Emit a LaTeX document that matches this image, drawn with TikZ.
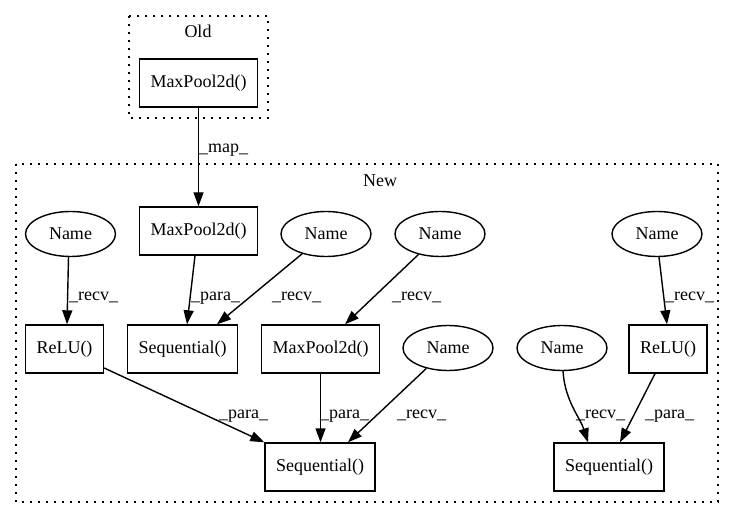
\documentclass[tikz,border=0pt]{standalone}
\usepackage{fontspec}
\setmainfont{Liberation Serif}
\usetikzlibrary{arrows.meta,shapes.geometric}
\begin{document}
\begin{tikzpicture}[x=1pt,y=-1pt,
  every node/.style={font=\fontsize{18}{20}\selectfont},
  op/.style={draw, line width=1.4pt, rectangle, minimum height=48pt,
             inner xsep=11pt, inner ysep=0pt},
  var/.style={draw, line width=1.4pt, ellipse, minimum width=90pt,
              minimum height=45pt, inner sep=0pt},
  cluster/.style={draw, line width=1.4pt, dash pattern=on 1.6pt off 6.4pt},
  flow/.style={line width=1.4pt, -{Triangle[length=14pt,width=10pt]}},
  lbl/.style={anchor=base west, inner sep=0pt},
  ctitle/.style={anchor=base, inner sep=0pt},
]
\useasboundingbox (0,0) rectangle (733,518);

% clusters
\draw[cluster] (129,16) rectangle (268,118);
\node[ctitle] (oldtitle) at (198,38) {Old};
\draw[cluster] (16,164) rectangle (718,502);
\node[ctitle] (newtitle) at (380,187) {New};

% nodes
\node[op] (oldmp) at (198.5,83) {MaxPool2d()};
\node[op] (mp1) at (198.5,231) {MaxPool2d()};
\node[var] (name1) at (70.5,234) {Name};
\node[var] (name2) at (326,234) {Name};
\node[var] (name3) at (440,234) {Name};
\node[var] (name4) at (657,234) {Name};
\node[op] (relu1) at (64.5,349) {ReLU()};
\node[op] (seqA) at (182.5,349) {Sequential()};
\node[op] (mp2) at (320.5,349) {MaxPool2d()};
\node[var] (name5) at (448,348) {Name};
\node[var] (name6) at (562,348) {Name};
\node[op] (relu2) at (668,349) {ReLU()};
\node[op] (seqB) at (320,467) {Sequential()};
\node[op] (seqC) at (609,467) {Sequential()};

% connectors
\draw[flow] (oldmp) -- (mp1);
\node[lbl] (lmap) at (199,153) {\_map\_};

\draw[flow] ([xshift=-2]name1.south) -- ([xshift=2.5]relu1.north);
\node[lbl] (l1) at (69,301) {\_recv\_};
\draw[flow] ([xshift=-3.5]mp1.south) -- ([xshift=4.5]seqA.north);
\node[lbl] (l2) at (191,301) {\_para\_};
\draw[flow] (name2) -- ([xshift=34.5]seqA.north);
\node[lbl] (l3) at (272,301) {\_recv\_};
\draw[flow] (name3) -- ([xshift=24.5]mp2.north);
\node[lbl] (l4) at (392,301) {\_recv\_};
\draw[flow] ([xshift=2]name4.south) -- ([xshift=-1]relu2.north);
\node[lbl] (l5) at (665,301) {\_recv\_};

\draw[flow] ([yshift=-19]relu1.east) -- (seqB.north west);
\node[lbl] (l6) at (219,418) {\_para\_};
\draw[flow] (mp2.south) -- (mp2.south |- seqB.north);
\node[lbl] (l7) at (320,418) {\_para\_};
\draw[flow] (name5) -- ([xshift=28]seqB.north);
\node[lbl] (l8) at (397,418) {\_recv\_};
\draw[flow] ([xshift=1]name6.south) .. controls +(2,30) and +(-8,-25) .. ([xshift=-21]seqC.north);
\node[lbl] (l9) at (576,418) {\_recv\_};
\draw[flow] ([xshift=-13]relu2.south) -- ([xshift=11]seqC.north);
\node[lbl] (l10) at (645,418) {\_para\_};
\end{tikzpicture}
\end{document}
